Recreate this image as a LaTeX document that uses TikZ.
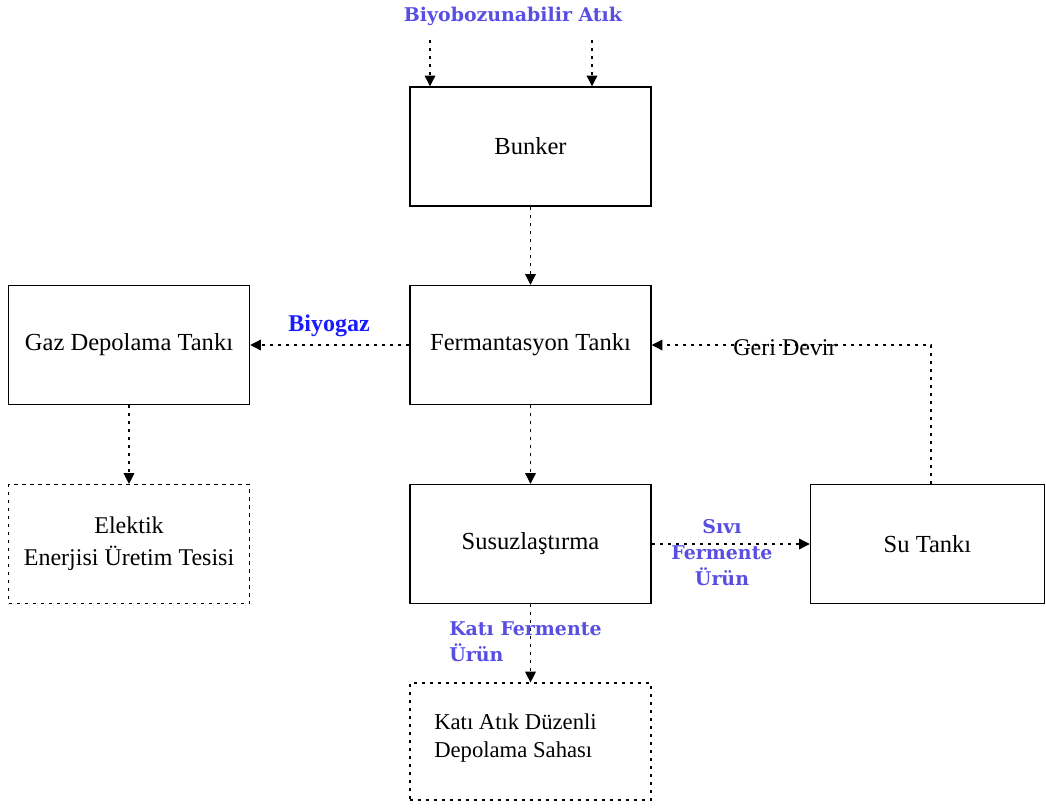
\documentclass[tikz,border=0pt]{standalone}
\usepackage{fontspec}
\setmainfont{Liberation Serif}
\newfontfamily\lblfont{DejaVu Serif}
\usetikzlibrary{arrows.meta}
\definecolor{lblblue}{RGB}{88,78,226}
\definecolor{gazblue}{RGB}{26,26,255}
\tikzset{
  x=0.75pt, y=-0.75pt,
  solidbox/.style={draw, line width=1.1pt, minimum width=180.75pt, minimum height=89.25pt, inner sep=0pt, font=\fontsize{18.4}{22}\selectfont, align=center},
  dashbox/.style={draw, line width=0.9pt, dash pattern=on 2.4pt off 3.6pt, minimum width=180.75pt, minimum height=89.25pt, inner sep=0pt, font=\fontsize{18}{24}\selectfont, align=center},
  flow/.style={line width=0.9pt, dash pattern=on 2.4pt off 3.6pt, -{Triangle[length=8pt,width=8pt]}},
  lbl/.style={text=lblblue, font=\lblfont\bfseries\fontsize{14.2}{19.5}\selectfont, inner sep=0pt}
}
\begin{document}
\begin{tikzpicture}
\useasboundingbox (0,0) rectangle (1046,808);
\node[solidbox] (bunker) at (530.5,146.5) {Bunker};
\node[solidbox] (ferm) at (530.5,345) {Fermantasyon Tankı};
\node[solidbox] (gaz) at (129,345) {Gaz Depolama Tankı};
\node[dashbox] (elek) at (129,544) {Elektik\\Enerjisi Üretim Tesisi};
\node[solidbox] (susuz) at (530.5,544) {Susuzlaştırma};
\node[solidbox, minimum width=175.5pt] (su) at (927.5,544) {Su Tankı};
\node[dashbox, minimum height=87.75pt] (kati) at (530.5,741.5) {};
\node[anchor=west, align=left, inner sep=0pt, font=\fontsize{17}{21}\selectfont] (katitxt) at (434,738) {Katı Atık Düzenli\\Depolama Sahası};

\node[lbl] (atik) at (513,16) {Biyobozunabilir Atık};
\coordinate (in1) at (430,40);
\coordinate (in2) at (592,40);
\draw[flow] (in1) -- (in1 |- bunker.north);
\draw[flow] (in2) -- (in2 |- bunker.north);

\draw[flow] (bunker) -- (ferm);
\draw[flow] (ferm) -- (gaz);
\node[text=gazblue, font=\bfseries\fontsize{18}{22}\selectfont, inner sep=0pt] (biyogaz) at (329,326) {Biyogaz};
\draw[flow] (ferm) -- (susuz);
\draw[flow] (gaz) -- (elek);
\draw[flow] (susuz) -- (su);
\node[lbl, align=center] (sivi) at (722,553) {Sıvı\\Fermente\\Ürün};
\draw[flow] (susuz) -- (kati);
\node[lbl, align=left, anchor=north west] (katilbl) at (449,621) {Katı Fermente\\Ürün};
\coordinate (ret) at (931,0);
\draw[flow] (ret |- su.north) |- (ferm.east);
\node[inner sep=0pt, font=\fontsize{18}{22}\selectfont] (geri) at (785,348) {Geri Devir};
\end{tikzpicture}
\end{document}
